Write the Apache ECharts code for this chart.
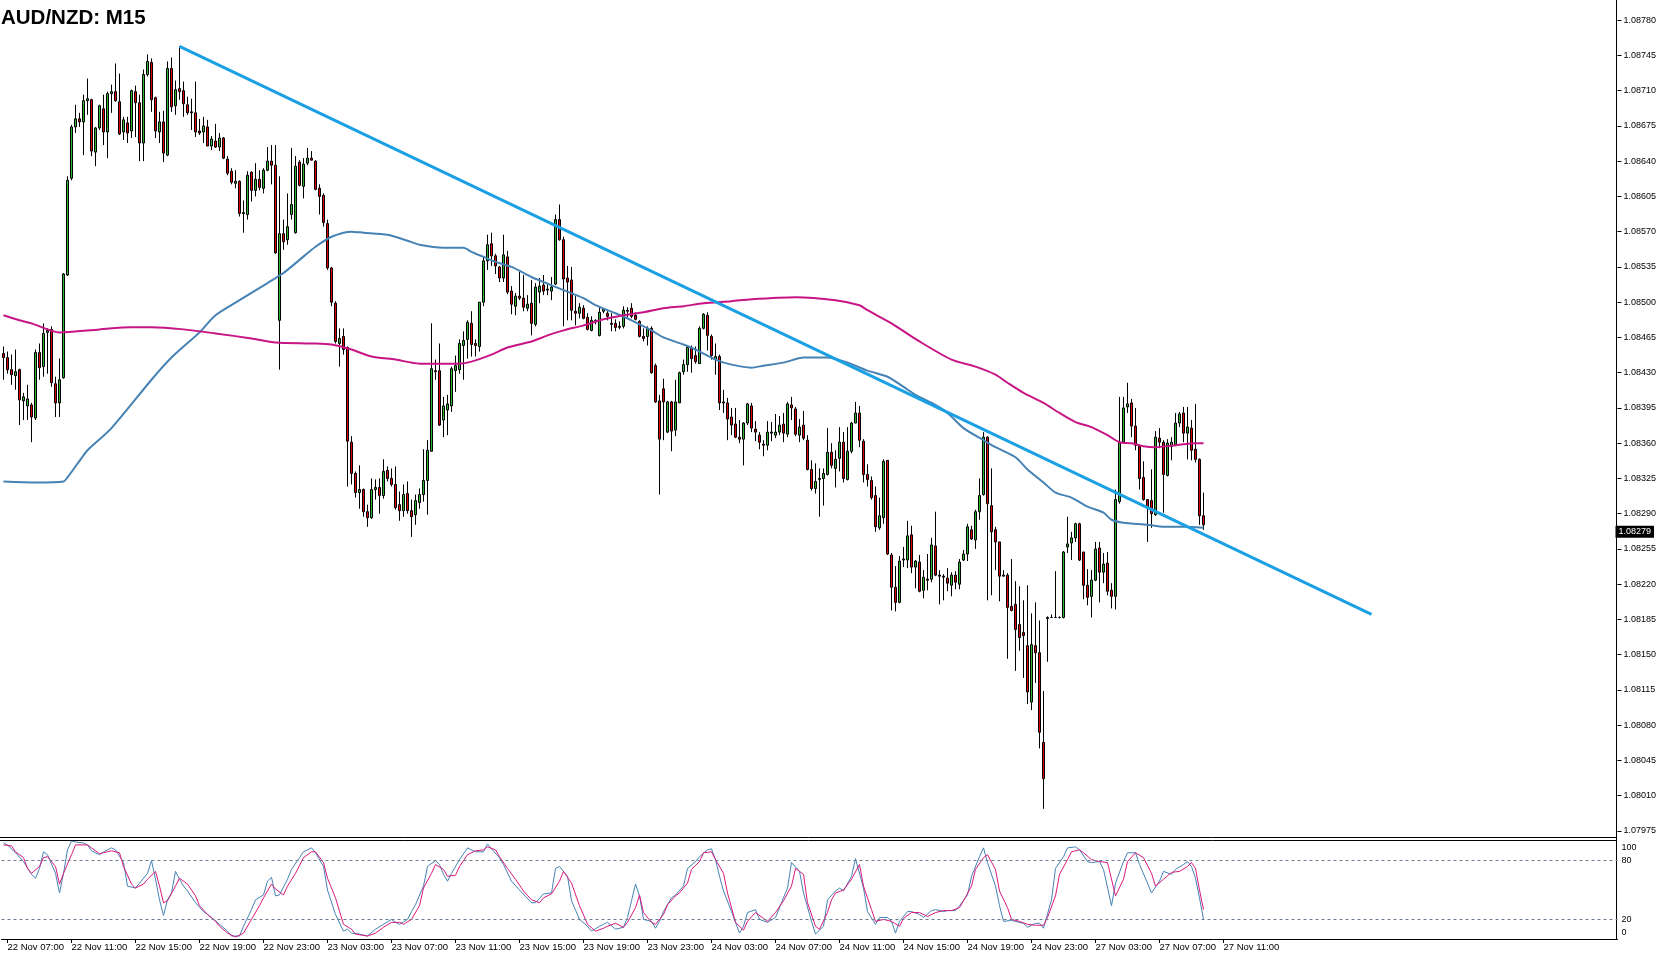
<!DOCTYPE html>
<html><head><meta charset="utf-8">
<script src="https://cdn.jsdelivr.net/npm/echarts@6/dist/echarts.min.js"></script>
<style>html,body{margin:0;padding:0;background:#fff;}#c{width:1660px;height:954px;}</style>
</head><body><div id="c"></div>
<script>
const chartTitle = 'AUD/NZD: M15';
const timeLabels = ['22 Nov 07:00','22 Nov 11:00','22 Nov 15:00','22 Nov 19:00','22 Nov 23:00','23 Nov 03:00','23 Nov 07:00','23 Nov 11:00','23 Nov 15:00','23 Nov 19:00','23 Nov 23:00','24 Nov 03:00','24 Nov 07:00','24 Nov 11:00','24 Nov 15:00','24 Nov 19:00','24 Nov 23:00','27 Nov 03:00','27 Nov 07:00','27 Nov 11:00'];
const firstLabelBar = 1, barsPerLabel = 16, slotCount = 404;

const open = [
1.08449,1.08445,1.08433,1.08427,1.08433,1.08402,1.08397,1.08398,1.08385,1.08450,
1.08436,1.08470,1.08473,1.08419,1.08400,1.08425,1.08527,1.08623,1.08674,1.08682,
1.08679,1.08700,1.08701,1.08649,1.08673,1.08692,1.08669,1.08707,1.08709,1.08699,
1.08669,1.08678,1.08670,1.08709,1.08698,1.08658,1.08726,1.08738,1.08703,1.08669,
1.08679,1.08646,1.08732,1.08695,1.08712,1.08710,1.08696,1.08689,1.08688,1.08670,
1.08669,1.08674,1.08655,1.08660,1.08654,1.08663,1.08642,1.08630,1.08618,1.08620,
1.08588,1.08587,1.08629,1.08611,1.08622,1.08613,1.08631,1.08640,1.08636,1.08482,
1.08568,1.08562,1.08587,1.08569,1.08639,1.08615,1.08638,1.08643,1.08640,1.08613,
1.08606,1.08578,1.08534,1.08499,1.08459,1.08466,1.08455,1.08361,1.08330,1.08311,
1.08314,1.08292,1.08286,1.08314,1.08316,1.08308,1.08333,1.08325,1.08319,1.08299,
1.08293,1.08310,1.08293,1.08289,1.08301,1.08309,1.08323,1.08352,1.08432,1.08432,
1.08383,1.08393,1.08397,1.08432,1.08433,1.08457,1.08463,1.08479,1.08459,1.08456,
1.08500,1.08541,1.08558,1.08546,1.08535,1.08524,1.08545,1.08511,1.08496,1.08506,
1.08504,1.08494,1.08499,1.08478,1.08510,1.08517,1.08512,1.08511,1.08518,1.08582,
1.08562,1.08524,1.08522,1.08491,1.08489,1.08494,1.08485,1.08472,1.08481,1.08467,
1.08491,1.08489,1.08479,1.08479,1.08476,1.08476,1.08491,1.08494,1.08487,1.08481,
1.08466,1.08466,1.08474,1.08437,1.08402,1.08414,1.08371,1.08401,1.08373,1.08400,
1.08431,1.08438,1.08455,1.08447,1.08439,1.08474,1.08487,1.08466,1.08443,1.08446,
1.08401,1.08400,1.08386,1.08379,1.08366,1.08364,1.08380,1.08397,1.08374,1.08368,
1.08359,1.08358,1.08370,1.08368,1.08371,1.08379,1.08369,1.08398,1.08394,1.08368,
1.08378,1.08363,1.08334,1.08315,1.08324,1.08325,1.08329,1.08351,1.08335,1.08345,
1.08361,1.08324,1.08352,1.08380,1.08390,1.08362,1.08329,1.08323,1.08308,1.08276,
1.08286,1.08343,1.08249,1.08217,1.08202,1.08244,1.08244,1.08269,1.08237,1.08242,
1.08214,1.08225,1.08225,1.08258,1.08229,1.08228,1.08226,1.08219,1.08229,1.08220,
1.08244,1.08250,1.08274,1.08264,1.08292,1.08309,1.08366,1.08298,1.08274,1.08262,
1.08229,1.08229,1.08198,1.08200,1.08180,1.08172,1.08159,1.08103,1.08159,1.08152,
1.08063,1.08187,1.08187,1.08187,1.08187,1.08187,1.08257,1.08261,1.08266,1.08280,
1.08252,1.08219,1.08208,1.08224,1.08256,1.08232,1.08241,1.08214,1.08208,1.08302,
1.08361,1.08396,1.08400,1.08377,1.08357,1.08326,1.08304,1.08303,1.08289,1.08365,
1.08361,1.08328,1.08357,1.08358,1.08380,1.08390,1.08370,1.08375,1.08354,1.08344,
1.08288];
const high = [
1.08456,1.08451,1.08448,1.08453,1.08434,1.08410,1.08418,1.08400,1.08453,1.08459,
1.08479,1.08474,1.08476,1.08426,1.08444,1.08529,1.08625,1.08676,1.08696,1.08688,
1.08706,1.08722,1.08702,1.08674,1.08696,1.08706,1.08709,1.08716,1.08737,1.08727,
1.08684,1.08684,1.08711,1.08715,1.08706,1.08731,1.08746,1.08742,1.08704,1.08689,
1.08690,1.08739,1.08743,1.08720,1.08754,1.08719,1.08704,1.08702,1.08719,1.08682,
1.08684,1.08681,1.08665,1.08677,1.08668,1.08664,1.08645,1.08633,1.08631,1.08621,
1.08601,1.08630,1.08630,1.08638,1.08631,1.08633,1.08654,1.08656,1.08656,1.08625,
1.08582,1.08608,1.08653,1.08645,1.08641,1.08643,1.08653,1.08650,1.08641,1.08617,
1.08608,1.08582,1.08535,1.08501,1.08474,1.08474,1.08456,1.08367,1.08332,1.08338,
1.08315,1.08299,1.08325,1.08324,1.08325,1.08344,1.08337,1.08335,1.08337,1.08312,
1.08319,1.08322,1.08304,1.08309,1.08315,1.08354,1.08363,1.08479,1.08443,1.08459,
1.08406,1.08408,1.08436,1.08447,1.08463,1.08471,1.08482,1.08491,1.08463,1.08500,
1.08545,1.08567,1.08569,1.08548,1.08536,1.08567,1.08551,1.08516,1.08509,1.08530,
1.08527,1.08507,1.08522,1.08519,1.08524,1.08527,1.08519,1.08525,1.08587,1.08597,
1.08565,1.08536,1.08535,1.08506,1.08499,1.08497,1.08489,1.08486,1.08483,1.08495,
1.08494,1.08491,1.08489,1.08483,1.08481,1.08496,1.08495,1.08499,1.08490,1.08482,
1.08474,1.08476,1.08476,1.08439,1.08408,1.08424,1.08402,1.08402,1.08423,1.08431,
1.08443,1.08456,1.08457,1.08456,1.08476,1.08489,1.08490,1.08468,1.08459,1.08448,
1.08413,1.08405,1.08395,1.08395,1.08383,1.08381,1.08400,1.08400,1.08382,1.08371,
1.08363,1.08382,1.08381,1.08389,1.08387,1.08390,1.08401,1.08406,1.08396,1.08384,
1.08392,1.08368,1.08343,1.08340,1.08335,1.08335,1.08375,1.08360,1.08353,1.08376,
1.08371,1.08376,1.08381,1.08401,1.08397,1.08364,1.08339,1.08327,1.08317,1.08306,
1.08344,1.08343,1.08251,1.08238,1.08248,1.08257,1.08283,1.08278,1.08244,1.08249,
1.08234,1.08250,1.08266,1.08292,1.08234,1.08230,1.08236,1.08232,1.08233,1.08245,
1.08254,1.08280,1.08278,1.08294,1.08325,1.08371,1.08367,1.08335,1.08277,1.08262,
1.08234,1.08231,1.08245,1.08223,1.08218,1.08204,1.08219,1.08191,1.08202,1.08184,
1.08114,1.08188,1.08190,1.08233,1.08188,1.08253,1.08287,1.08272,1.08281,1.08281,
1.08252,1.08235,1.08234,1.08262,1.08262,1.08251,1.08252,1.08221,1.08314,1.08406,
1.08406,1.08420,1.08404,1.08395,1.08357,1.08342,1.08304,1.08334,1.08372,1.08375,
1.08363,1.08364,1.08366,1.08390,1.08391,1.08396,1.08396,1.08383,1.08399,1.08345,
1.08311];
const low = [
1.08423,1.08429,1.08418,1.08413,1.08378,1.08383,1.08383,1.08361,1.08383,1.08423,
1.08426,1.08429,1.08416,1.08386,1.08386,1.08424,1.08526,1.08621,1.08668,1.08674,
1.08646,1.08686,1.08645,1.08635,1.08671,1.08656,1.08643,1.08688,1.08699,1.08666,
1.08661,1.08658,1.08663,1.08664,1.08640,1.08640,1.08724,1.08689,1.08663,1.08658,
1.08639,1.08645,1.08689,1.08686,1.08701,1.08684,1.08686,1.08671,1.08664,1.08666,
1.08658,1.08655,1.08651,1.08653,1.08650,1.08642,1.08626,1.08617,1.08613,1.08585,
1.08569,1.08582,1.08600,1.08605,1.08611,1.08608,1.08630,1.08617,1.08548,1.08433,
1.08552,1.08557,1.08582,1.08568,1.08615,1.08603,1.08636,1.08641,1.08611,1.08587,
1.08575,1.08532,1.08496,1.08459,1.08436,1.08448,1.08317,1.08319,1.08306,1.08295,
1.08287,1.08277,1.08285,1.08304,1.08290,1.08305,1.08322,1.08317,1.08294,1.08283,
1.08287,1.08290,1.08267,1.08279,1.08295,1.08302,1.08289,1.08352,1.08423,1.08377,
1.08366,1.08368,1.08391,1.08411,1.08429,1.08423,1.08444,1.08446,1.08446,1.08451,
1.08496,1.08532,1.08536,1.08528,1.08520,1.08520,1.08508,1.08488,1.08487,1.08502,
1.08491,1.08491,1.08467,1.08476,1.08499,1.08507,1.08507,1.08502,1.08517,1.08561,
1.08476,1.08482,1.08482,1.08477,1.08484,1.08483,1.08472,1.08471,1.08478,1.08466,
1.08489,1.08482,1.08471,1.08471,1.08473,1.08474,1.08485,1.08484,1.08482,1.08465,
1.08461,1.08457,1.08429,1.08400,1.08309,1.08363,1.08370,1.08352,1.08367,1.08400,
1.08428,1.08431,1.08430,1.08439,1.08439,1.08473,1.08452,1.08443,1.08428,1.08393,
1.08390,1.08363,1.08368,1.08365,1.08360,1.08338,1.08378,1.08371,1.08362,1.08354,
1.08347,1.08353,1.08362,1.08365,1.08368,1.08361,1.08366,1.08383,1.08367,1.08361,
1.08363,1.08333,1.08313,1.08310,1.08287,1.08298,1.08328,1.08335,1.08316,1.08332,
1.08321,1.08323,1.08350,1.08380,1.08356,1.08321,1.08317,1.08304,1.08272,1.08274,
1.08280,1.08249,1.08194,1.08193,1.08201,1.08237,1.08236,1.08231,1.08216,1.08212,
1.08206,1.08214,1.08222,1.08228,1.08200,1.08204,1.08213,1.08208,1.08215,1.08215,
1.08243,1.08243,1.08264,1.08255,1.08284,1.08308,1.08204,1.08209,1.08234,1.08203,
1.08228,1.08146,1.08193,1.08134,1.08154,1.08127,1.08101,1.08095,1.08122,1.08057,
1.07997,1.08143,1.08187,1.08187,1.08186,1.08186,1.08251,1.08244,1.08262,1.08243,
1.08205,1.08199,1.08187,1.08223,1.08202,1.08221,1.08209,1.08196,1.08195,1.08300,
1.08360,1.08390,1.08366,1.08353,1.08314,1.08303,1.08262,1.08276,1.08288,1.08355,
1.08291,1.08327,1.08343,1.08357,1.08376,1.08361,1.08344,1.08343,1.08341,1.08279,
1.08274];
const close = [
1.08445,1.08433,1.08428,1.08431,1.08403,1.08406,1.08404,1.08386,1.08450,1.08435,
1.08469,1.08472,1.08420,1.08400,1.08423,1.08528,1.08621,1.08674,1.08682,1.08679,
1.08700,1.08702,1.08650,1.08673,1.08695,1.08669,1.08707,1.08709,1.08700,1.08667,
1.08681,1.08668,1.08710,1.08698,1.08658,1.08726,1.08739,1.08701,1.08670,1.08679,
1.08648,1.08732,1.08694,1.08711,1.08709,1.08697,1.08688,1.08688,1.08669,1.08668,
1.08675,1.08655,1.08662,1.08654,1.08663,1.08643,1.08628,1.08619,1.08620,1.08588,
1.08589,1.08626,1.08611,1.08622,1.08614,1.08631,1.08640,1.08636,1.08549,1.08568,
1.08560,1.08575,1.08597,1.08635,1.08616,1.08637,1.08643,1.08641,1.08612,1.08605,
1.08579,1.08534,1.08500,1.08461,1.08464,1.08453,1.08362,1.08330,1.08311,1.08314,
1.08292,1.08286,1.08314,1.08316,1.08308,1.08332,1.08325,1.08319,1.08296,1.08293,
1.08309,1.08293,1.08287,1.08303,1.08309,1.08323,1.08353,1.08434,1.08431,1.08378,
1.08397,1.08399,1.08434,1.08437,1.08459,1.08462,1.08480,1.08458,1.08457,1.08500,
1.08541,1.08557,1.08546,1.08536,1.08524,1.08547,1.08510,1.08498,1.08506,1.08504,
1.08495,1.08498,1.08479,1.08515,1.08516,1.08511,1.08513,1.08515,1.08582,1.08562,
1.08523,1.08520,1.08492,1.08489,1.08495,1.08484,1.08473,1.08482,1.08482,1.08490,
1.08493,1.08486,1.08478,1.08475,1.08475,1.08492,1.08492,1.08486,1.08483,1.08466,
1.08464,1.08474,1.08430,1.08401,1.08364,1.08401,1.08401,1.08372,1.08401,1.08430,
1.08438,1.08455,1.08444,1.08441,1.08474,1.08488,1.08467,1.08447,1.08446,1.08400,
1.08400,1.08384,1.08378,1.08366,1.08364,1.08380,1.08399,1.08375,1.08371,1.08361,
1.08358,1.08371,1.08371,1.08371,1.08378,1.08370,1.08399,1.08395,1.08369,1.08376,
1.08365,1.08334,1.08315,1.08322,1.08325,1.08330,1.08351,1.08338,1.08344,1.08361,
1.08325,1.08352,1.08380,1.08390,1.08363,1.08329,1.08324,1.08306,1.08277,1.08288,
1.08342,1.08250,1.08217,1.08202,1.08243,1.08245,1.08268,1.08237,1.08243,1.08213,
1.08227,1.08224,1.08259,1.08229,1.08228,1.08227,1.08221,1.08229,1.08222,1.08242,
1.08250,1.08277,1.08265,1.08292,1.08308,1.08366,1.08300,1.08272,1.08262,1.08228,
1.08228,1.08197,1.08194,1.08175,1.08167,1.08169,1.08113,1.08160,1.08152,1.08073,
1.08027,1.08186,1.08187,1.08187,1.08187,1.08252,1.08260,1.08266,1.08280,1.08244,
1.08219,1.08207,1.08224,1.08255,1.08232,1.08240,1.08213,1.08208,1.08304,1.08361,
1.08395,1.08399,1.08377,1.08358,1.08325,1.08304,1.08296,1.08290,1.08366,1.08361,
1.08329,1.08360,1.08361,1.08380,1.08389,1.08370,1.08376,1.08353,1.08344,1.08288,
1.08279];
const lastPrice = 1.08279;

const maBlue = [[0,1.08322],[8,1.08321],[15,1.08322],[16,1.08326],[20,1.08348],[21,1.08353],[27,1.08375],[37,1.08423],[42,1.08445],[49,1.08470],[53,1.08487],[59,1.08502],[66,1.08519],[70,1.08529],[74,1.08542],[78,1.08555],[82,1.08565],[87,1.08570],[90,1.08569],[96,1.08567],[101,1.08561],[104,1.08557],[110,1.08554],[115,1.08554],[117,1.08550],[120,1.08545],[123,1.08540],[127,1.08535],[132,1.08525],[135,1.08520],[140,1.08512],[145,1.08504],[148,1.08497],[153,1.08489],[157,1.08482],[162,1.08472],[165,1.08465],[170,1.08458],[173,1.08453],[178,1.08443],[182,1.08438],[187,1.08435],[190,1.08437],[195,1.08440],[200,1.08445],[206,1.08445],[211,1.08440],[216,1.08432],[221,1.08426],[225,1.08416],[228,1.08408],[233,1.08398],[236,1.08390],[240,1.08375],[245,1.08363],[248,1.08356],[253,1.08346],[256,1.08334],[260,1.08321],[263,1.08311],[267,1.08306],[271,1.08297],[275,1.08291],[277,1.08284],[280,1.08281],[286,1.08279],[290,1.08277],[295,1.08277],[300,1.08276]];
const maMagenta = [[0,1.08487],[4,1.08482],[7,1.08479],[14,1.08470],[24,1.08473],[32,1.08475],[37,1.08475],[45,1.08473],[53,1.08469],[62,1.08464],[68,1.08460],[77,1.08459],[82,1.08458],[87,1.08453],[92,1.08446],[98,1.08443],[104,1.08439],[114,1.08439],[117,1.08441],[122,1.08448],[126,1.08455],[132,1.08461],[136,1.08467],[140,1.08472],[145,1.08477],[150,1.08483],[155,1.08487],[160,1.08490],[165,1.08494],[170,1.08496],[175,1.08499],[182,1.08501],[187,1.08503],[198,1.08505],[208,1.08502],[214,1.08497],[216,1.08492],[222,1.08479],[229,1.08461],[237,1.08443],[243,1.08436],[248,1.08428],[251,1.08420],[255,1.08410],[260,1.08400],[264,1.08390],[268,1.08381],[272,1.08376],[276,1.08368],[279,1.08361],[282,1.08360],[285,1.08357],[288,1.08356],[293,1.08358],[298,1.08360],[300,1.08360]];
const trendLine = [[44,1.08754],[342,1.08190]];

const stochK = [[0,98],[1,96],[3,88],[5,79],[7,66],[8,62],[9,72],[10,89],[11,86],[13,67],[14,47],[15,67],[16,91],[17,100],[18,99],[20,98],[21,96],[22,90],[24,86],[25,89],[27,93],[28,91],[30,78],[31,54],[33,52],[34,57],[36,67],[37,80],[38,61],[39,40],[40,24],[41,40],[42,47],[43,69],[44,61],[45,54],[46,49],[48,37],[50,28],[52,22],[54,15],[56,8],[57,3],[59,3],[60,13],[62,30],[63,40],[65,45],[66,59],[67,63],[68,44],[69,45],[71,61],[72,71],[74,83],[75,89],[77,93],[78,88],[80,74],[81,50],[83,25],[85,8],[86,10],[87,6],[89,5],[91,3],[93,10],[95,15],[97,20],[98,17],[99,15],[101,20],[102,28],[103,35],[105,54],[106,74],[108,80],[109,76],[110,66],[111,59],[112,67],[114,81],[116,93],[118,89],[120,89],[121,97],[122,92],[124,83],[125,76],[127,59],[129,50],[132,37],[133,37],[135,46],[137,47],[138,72],[139,74],[141,64],[142,39],[144,20],[146,13],[147,8],[149,13],[150,15],[151,17],[153,10],[155,12],[156,22],[157,39],[158,56],[159,44],[160,20],[162,18],[163,11],[164,18],[165,28],[167,42],[168,45],[170,54],[171,72],[173,79],[174,84],[176,91],[177,92],[178,81],[179,64],[180,49],[182,28],[184,6],[185,13],[186,27],[188,30],[189,20],[191,17],[193,22],[194,32],[196,52],[197,78],[199,69],[200,47],[202,18],[203,5],[205,13],[206,40],[208,49],[209,52],[210,49],[212,64],[213,82],[215,52],[216,28],[218,15],[219,22],[221,22],[222,18],[223,6],[224,18],[226,28],[227,28],[229,25],[230,22],[232,29],[233,30],[235,28],[236,29],[238,29],[239,34],[241,45],[242,64],[244,84],[245,93],[246,78],[248,54],[249,34],[250,18],[252,19],[253,18],[255,16],[256,12],[258,16],[259,16],[260,11],[262,40],[263,72],[265,84],[266,93],[268,94],[269,91],[271,79],[272,78],[274,79],[275,71],[277,34],[278,57],[280,79],[281,88],[283,88],[284,76],[286,57],[287,47],[289,59],[290,69],[292,66],[293,71],[295,76],[296,79],[297,74],[298,62],[299,42],[300,20]];
const stochD = [[0,96],[2,95],[3,89],[5,83],[6,72],[7,67],[9,74],[10,83],[11,84],[13,74],[14,56],[15,67],[17,86],[18,96],[21,96],[22,93],[24,87],[25,88],[27,90],[29,88],[30,74],[32,56],[33,52],[35,56],[36,61],[38,69],[39,54],[40,37],[41,39],[43,54],[44,62],[46,56],[48,44],[49,34],[51,25],[53,18],[54,13],[56,6],[58,2],[60,6],[62,20],[64,34],[65,42],[67,56],[68,51],[70,45],[71,54],[73,67],[75,83],[77,89],[78,89],[80,78],[81,62],[83,42],[85,15],[87,10],[88,5],[91,3],[93,6],[95,12],[97,17],[99,17],[100,15],[102,20],[104,34],[105,52],[107,67],[108,76],[110,71],[111,64],[113,65],[114,74],[116,86],[118,90],[120,91],[121,94],[123,91],[124,84],[126,72],[128,61],[130,49],[132,40],[134,37],[135,42],[137,46],[139,59],[140,69],[142,57],[144,34],[146,15],[148,8],[150,11],[151,13],[153,16],[155,12],[156,17],[158,32],[159,45],[160,27],[162,17],[163,15],[165,25],[166,35],[168,44],[169,47],[171,57],[172,71],[174,79],[175,88],[177,89],[178,81],[180,67],[181,47],[183,17],[185,9],[186,18],[188,27],[190,21],[191,18],[193,27],[195,39],[197,54],[198,72],[200,66],[201,37],[203,13],[204,10],[206,27],[207,40],[208,47],[210,50],[212,61],[214,76],[215,54],[217,30],[218,18],[220,20],[222,18],[224,13],[225,21],[227,27],[229,27],[231,23],[233,27],[235,29],[237,29],[239,32],[240,39],[242,54],[243,71],[245,83],[246,86],[248,71],[249,49],[251,32],[252,20],[254,18],[256,15],[258,14],[260,14],[261,22],[263,44],[264,66],[266,81],[267,89],[269,91],[270,88],[272,81],[274,79],[276,78],[278,44],[280,61],[281,79],[283,88],[285,83],[287,67],[288,54],[290,61],[292,68],[294,69],[296,74],[297,78],[298,72],[299,50],[300,30]];
const stochLevels = [20, 80];
const stochLabels = [0, 20, 80, 100];
const priceAxis = {min: 1.07975, max: 1.08800, step: 0.00035};

const FONT = 'Liberation Sans';
const categories = Array.from({length: slotCount}, (_, i) => String(i));
const candles = open.map((o, i) => [o, close[i], low[i], high[i]]);
const isLabelSlot = (i) => i >= firstLabelBar && (i - firstLabelBar) % barsPerLabel === 0 && (i - firstLabelBar) / barsPerLabel < timeLabels.length;

const chart = echarts.init(document.getElementById('c'), null, {renderer: 'canvas', width: 1660, height: 954});
chart.setOption({
  animation: false,
  backgroundColor: '#ffffff',
  title: {text: chartTitle, left: 1, top: 8, padding: 0,
    textStyle: {fontFamily: FONT, fontWeight: 'bold', fontSize: 20.5, color: '#000'}},
  grid: [
    {left: 1.5, right: 42.5, top: 0, height: 831},
    {left: 1.5, right: 42.5, top: 841, height: 98}
  ],
  xAxis: [
    {type: 'category', gridIndex: 0, data: categories, boundaryGap: true, show: false},
    {type: 'category', gridIndex: 1, data: categories, boundaryGap: true,
      axisLine: {show: true, lineStyle: {color: '#000', width: 1}},
      axisTick: {show: true, alignWithLabel: true, length: 4, interval: (i) => isLabelSlot(i), lineStyle: {color: '#000'}},
      axisLabel: {interval: (i) => isLabelSlot(i), align: 'left', margin: 3, fontSize: 9.5, fontFamily: FONT, color: '#000',
        formatter: (v, i) => isLabelSlot(i) ? timeLabels[(i - firstLabelBar) / barsPerLabel] : ''},
      splitLine: {show: false}}
  ],
  yAxis: [
    {type: 'value', gridIndex: 0, position: 'right', min: priceAxis.min, max: priceAxis.max, interval: priceAxis.step,
      splitLine: {show: false}, axisLine: {show: false},
      axisTick: {show: true, length: 4, lineStyle: {color: '#000'}},
      axisLabel: {margin: 6, fontSize: 9, fontFamily: FONT, color: '#000', showMaxLabel: false, formatter: (v) => v.toFixed(5)}},
    {type: 'value', gridIndex: 1, position: 'right', min: 0, max: 100, interval: 20,
      splitLine: {show: false}, axisLine: {show: false}, axisTick: {show: false},
      axisLabel: {margin: 4, fontSize: 9, fontFamily: FONT, color: '#000',
        formatter: (v) => {
          if (!stochLabels.includes(v)) return '';
          if (v === 100) return '{t|' + v + '}';
          if (v === 0) return '{b|' + v + '}';
          return String(v);
        },
        rich: {t: {padding: [14, 0, 0, 0], fontSize: 9, fontFamily: FONT, color: '#000'},
               b: {padding: [0, 0, 12, 0], fontSize: 9, fontFamily: FONT, color: '#000'}}}}
  ],
  series: [
    {type: 'candlestick', xAxisIndex: 0, yAxisIndex: 0, data: candles, barWidth: 2, z: 2,
      itemStyle: {color: '#2DB52D', color0: '#E00000', borderColor: '#000', borderColor0: '#000', borderWidth: 1}},
    {type: 'line', xAxisIndex: 0, yAxisIndex: 0, data: maBlue, showSymbol: false, smooth: 0.25, z: 3,
      lineStyle: {color: '#4682B4', width: 2}},
    {type: 'line', xAxisIndex: 0, yAxisIndex: 0, data: maMagenta, showSymbol: false, smooth: 0.25, z: 3,
      lineStyle: {color: '#C71585', width: 2}},
    {type: 'line', xAxisIndex: 0, yAxisIndex: 0, data: trendLine, showSymbol: false, z: 4,
      lineStyle: {color: '#1BA0E4', width: 3}},
    {type: 'scatter', xAxisIndex: 0, yAxisIndex: 0, data: [[slotCount - 1, lastPrice]], symbolSize: 0, clip: false, z: 6, silent: true,
      itemStyle: {opacity: 1},
      label: {show: true, position: 'right', distance: 0, offset: [0, 7], opacity: 1,
        formatter: () => lastPrice.toFixed(5),
        backgroundColor: '#000', color: '#fff', fontSize: 9, fontFamily: FONT, padding: [2, 3, 1, 3]}},
    {type: 'line', xAxisIndex: 1, yAxisIndex: 1, data: stochK, showSymbol: false, z: 3,
      lineStyle: {color: '#4682B4', width: 1},
      markLine: {silent: true, symbol: 'none', label: {show: false},
        lineStyle: {type: [3, 3], color: '#6A7A8C', width: 1},
        data: stochLevels.map(v => ({yAxis: v}))}},
    {type: 'line', xAxisIndex: 1, yAxisIndex: 1, data: stochD, showSymbol: false, z: 3,
      lineStyle: {color: '#DA1A7C', width: 1}}
  ],
  graphic: [
    {type: 'line', silent: true, shape: {x1: 1616.5, y1: 0, x2: 1616.5, y2: 940}, style: {stroke: '#000', lineWidth: 1}},
    {type: 'line', silent: true, shape: {x1: 0, y1: 837.5, x2: 1616.5, y2: 837.5}, style: {stroke: '#000', lineWidth: 1}},
    {type: 'line', silent: true, shape: {x1: 0, y1: 840.5, x2: 1616.5, y2: 840.5}, style: {stroke: '#000', lineWidth: 1}}
  ]
});
</script>
</body></html>
